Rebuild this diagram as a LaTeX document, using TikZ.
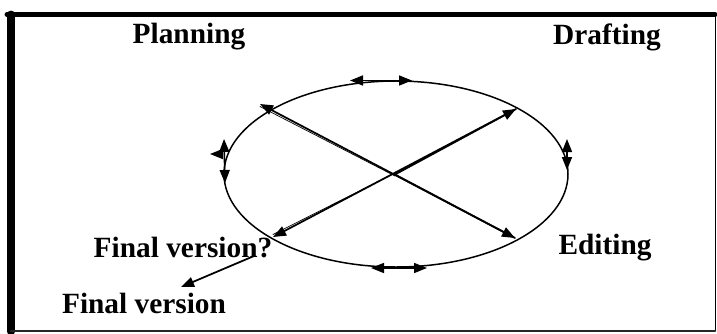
\documentclass[tikz,border=0pt]{standalone}
\usepackage{fontspec}
\setmainfont{Liberation Serif}
\usetikzlibrary{arrows.meta}

\begin{document}
\begin{tikzpicture}[line cap=round,line join=round,
    lbl/.style={font=\fontsize{16.7}{18}\selectfont\bfseries,inner sep=0pt},
    arr/.style={line width=1pt,-{Triangle[length=0.26cm,width=0.2cm]}},
    dbl/.style={line width=0.9pt,{Triangle[length=0.26cm,width=0.2cm]}-{Triangle[length=0.26cm,width=0.2cm]}}]
  \useasboundingbox (0,0) rectangle (14.34,6.66);
  % frame
  \draw[line width=0.5pt] (0.22,6.37) rectangle (14.30,0.06);
  \draw[line width=4.5pt] (0.22,0.03) -- (0.22,6.37);
  \draw[line width=2.8pt] (0.14,6.37) -- (14.30,6.37);
  \draw[line width=1.6pt,black!85] (0.22,0.04) -- (14.30,0.04);
  % cycle
  \draw[line width=0.85pt] (7.92,3.18) ellipse [x radius=3.44, y radius=1.86];
  \coordinate (nw) at (5.20,4.58);
  \coordinate (se) at (10.30,1.90);
  \coordinate (sw) at (5.46,1.92);
  \coordinate (ne) at (10.32,4.48);
  \coordinate (mid) at (7.90,3.17);
  \draw[arr] (se) -- (nw);
  \draw[arr] (mid) -- (se);
  \draw[arr] (ne) -- (sw);
  \draw[arr] (mid) -- (ne);
  \draw[line width=0.4pt] ([yshift=-0.05cm]nw) -- ([yshift=-0.03cm]mid);
  \draw[line width=0.4pt] ([yshift=0.05cm]sw) -- ([yshift=0.03cm]mid);
  % arrows along the cycle
  \coordinate (t1) at (7.00,5.05);
  \coordinate (t2) at (8.24,5.05);
  \coordinate (b1) at (7.42,1.30);
  \coordinate (b2) at (8.54,1.30);
  \coordinate (l1) at (4.48,3.88);
  \coordinate (l2) at (4.50,3.00);
  \coordinate (r1) at (11.34,3.88);
  \coordinate (r2) at (11.34,3.26);
  \coordinate (lx) at (4.44,3.58);
  \coordinate (lt) at (4.20,3.58);
  \draw[dbl] (t1) -- (t2);
  \draw[dbl] (b1) -- (b2);
  \draw[dbl] (l1) -- (l2);
  \draw[dbl] (r1) -- (r2);
  \draw[arr] (lx) -- (lt);
  % labels
  \node[lbl] (plan) at (3.78,5.92) {Planning};
  \node[lbl] (draft) at (12.14,5.92) {Drafting};
  \node[lbl] (fq) at (3.66,1.70) {Final version?};
  \node[lbl] (edit) at (12.10,1.70) {Editing};
  \node[lbl] (fin) at (2.88,0.60) {Final version};
  \coordinate (fa) at (5.08,1.54);
  \coordinate (fb) at (3.62,0.92);
  \draw[arr] (fa) -- (fb);
\end{tikzpicture}
\end{document}
